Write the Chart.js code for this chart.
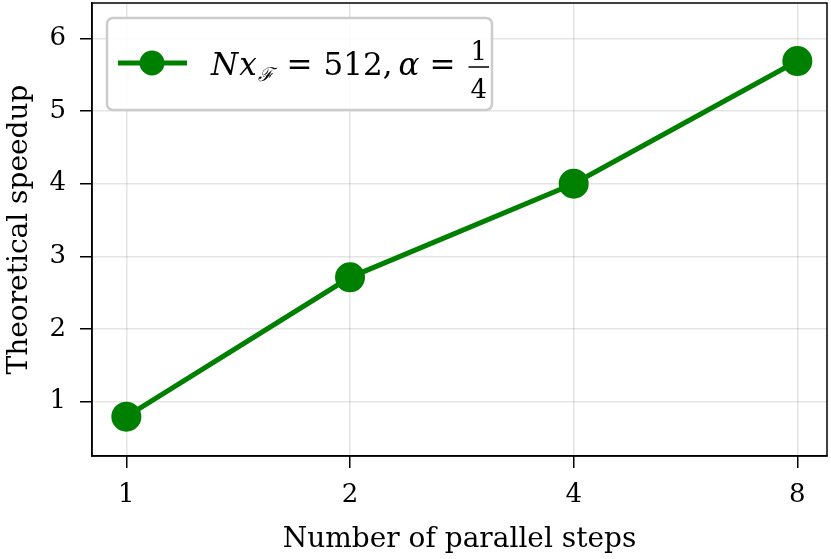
<!DOCTYPE html>
<html>
<head>
<meta charset="utf-8">
<script src="https://cdn.jsdelivr.net/npm/chart.js@4"></script>
<style>
  html, body { margin: 0; padding: 0; background: #fff; }
  #wrap { width: 831px; height: 559px; }
</style>
</head>
<body>
<div id="wrap"><canvas id="c" width="831" height="559"></canvas></div>
<script>
// data
const steps = [1, 2, 4, 8];
const speedup = [0.79, 2.71, 4.0, 5.69];
const yTicks = [1, 2, 3, 4, 5, 6];

const GREEN = '#008000';
const FONT = 'DejaVu Serif';
const FS = 26;

// legend with the math label, drawn on canvas
const mathLegend = {
  id: 'mathLegend',
  afterDatasetsDraw(chart) {
    const ctx = chart.ctx;
    ctx.save();
    // box
    ctx.beginPath();
    ctx.roundRect(107, 18, 385, 92, 6);
    ctx.fillStyle = 'rgba(255,255,255,0.85)';
    ctx.fill();
    ctx.lineWidth = 2.5;
    ctx.strokeStyle = '#cccccc';
    ctx.stroke();
    // line + marker sample
    ctx.strokeStyle = GREEN;
    ctx.lineWidth = 5;
    ctx.beginPath();
    ctx.moveTo(118, 63);
    ctx.lineTo(187, 63);
    ctx.stroke();
    ctx.fillStyle = GREEN;
    ctx.beginPath();
    ctx.arc(152, 63, 12.5, 0, Math.PI * 2);
    ctx.fill();
    // label text, laid out piece by piece
    ctx.fillStyle = '#000';
    ctx.textBaseline = 'alphabetic';
    ctx.textAlign = 'left';
    const base = 75;
    let x = 211;
    const put = (t, font, gapAfter, dy) => {
      ctx.font = font;
      ctx.fillText(t, x, base + (dy || 0));
      x += ctx.measureText(t).width + gapAfter;
    };
    const it = 'italic 31px ' + FONT;
    const rm = '31px ' + FONT;
    put('N', it, 1);
    put('x', it, 1);
    put('\u2131', 'italic 19px ' + FONT, 13, 6);
    put('=', rm, 11);
    put('512,', rm, 6);
    put('\u03b1', it, 10);
    put('=', rm, 13);
    // fraction 1/4
    ctx.font = '26px ' + FONT;
    const fw = ctx.measureText('4').width + 4;
    const cx = x + fw / 2;
    ctx.textAlign = 'center';
    ctx.fillText('1', cx, 60);
    ctx.fillText('4', cx, 98);
    ctx.lineWidth = 1.5;
    ctx.strokeStyle = '#000';
    ctx.beginPath();
    ctx.moveTo(x, 67);
    ctx.lineTo(x + fw, 67);
    ctx.stroke();
    ctx.restore();
  }
};

// top and right spines
const frame = {
  id: 'frame',
  afterDraw(chart) {
    const a = chart.chartArea, ctx = chart.ctx;
    ctx.save();
    ctx.strokeStyle = '#000';
    ctx.lineWidth = 1.5;
    ctx.strokeRect(a.left, a.top, a.right - a.left, a.bottom - a.top);
    ctx.restore();
  }
};

const noPad = (s) => { s.paddingTop = 0; s.paddingBottom = 0; s.paddingLeft = 0; s.paddingRight = 0; };

new Chart(document.getElementById('c').getContext('2d'), {
  type: 'line',
  data: {
    datasets: [{
      label: 'speedup',
      data: steps.map((s, i) => ({ x: s, y: speedup[i] })),
      borderColor: GREEN,
      backgroundColor: GREEN,
      borderWidth: 5,
      pointRadius: 12.5,
      pointHoverRadius: 12.5,
      pointBackgroundColor: GREEN,
      pointBorderColor: GREEN,
      tension: 0,
    }],
  },
  options: {
    responsive: false,
    animation: false,
    events: [],
    layout: { autoPadding: false, padding: { top: 3, right: 4, left: 0, bottom: 0 } },
    plugins: { legend: { display: false }, tooltip: { enabled: false } },
    scales: {
      x: {
        type: 'logarithmic',
        min: 0.899,
        max: 8.77,
        afterBuildTicks: (s) => { s.ticks = steps.map((v) => ({ value: v })); },
        afterFit: (s) => { s.height = 103; noPad(s); },
        ticks: {
          color: '#000',
          font: { family: FONT, size: FS },
          padding: 12,
          callback: (v) => String(v),
        },
        grid: { color: 'rgba(0,0,0,0.1)', lineWidth: 1.5, tickLength: 12, tickColor: '#000', tickWidth: 1.5 },
        border: { color: '#000', width: 1.5 },
        title: {
          display: true,
          text: 'Number of parallel steps',
          color: '#000',
          font: { family: FONT, size: 28 },
          padding: { top: 0, bottom: 2 },
        },
      },
      y: {
        type: 'linear',
        min: 0.248,
        max: 6.49,
        afterBuildTicks: (s) => { s.ticks = yTicks.map((v) => ({ value: v })); },
        afterFit: (s) => { s.width = 92; noPad(s); },
        ticks: {
          color: '#000',
          font: { family: FONT, size: FS },
          padding: 14,
        },
        grid: { color: 'rgba(0,0,0,0.1)', lineWidth: 1.5, tickLength: 12, tickColor: '#000', tickWidth: 1.5 },
        border: { color: '#000', width: 1.5 },
        title: {
          display: true,
          text: 'Theoretical speedup',
          color: '#000',
          font: { family: FONT, size: 28 },
          padding: { top: 3, bottom: 0 },
        },
      },
    },
  },
  plugins: [mathLegend, frame],
});
</script>
</body>
</html>
